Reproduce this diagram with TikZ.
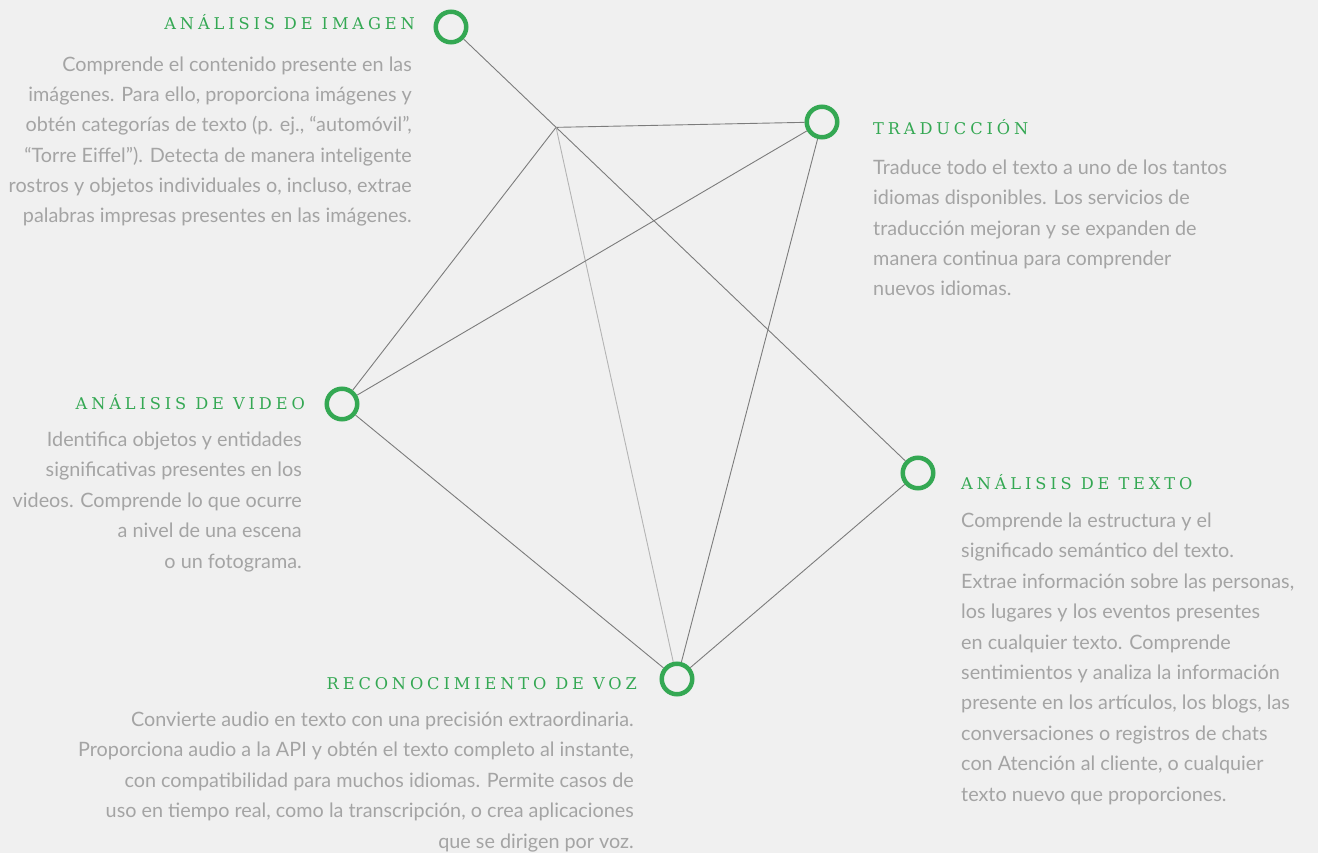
\documentclass[tikz,border=0pt]{standalone}
\usepackage{fontspec}
\setmainfont{Lato}
\newfontfamily\slabfont[LetterSpace=24]{DejaVu Serif}
\usetikzlibrary{calc}
\definecolor{fondo}{HTML}{F0F0F0}
\definecolor{verde}{HTML}{34A853}
\definecolor{gristexto}{HTML}{A4A4A4}
\definecolor{grislinea}{HTML}{7C7C7C}
\definecolor{grisclaro}{HTML}{B4B4B4}

\begin{document}
\begin{tikzpicture}[x=1pt,y=-1pt,
  punto/.style={circle,draw=verde,line width=4.5pt,fill=fondo,minimum size=30.5pt,inner sep=0pt},
  titulo/.style={text=verde,inner sep=0pt,font=\slabfont\fontsize{16.2}{18}\selectfont},
  cuerpo/.style={text=gristexto,inner sep=0pt,font=\fontsize{19.8}{30.4}\selectfont},
  enlace/.style={draw=grislinea,line width=0.9pt}]
\fill[fondo] (0,0) rectangle (1318,853);
\useasboundingbox (0,0) rectangle (1318,853);

% puntos
\node[punto] (img) at (451,27) {};
\node[punto] (trad) at (822,122) {};
\node[punto] (vid) at (342,404) {};
\node[punto] (txt) at (918,473) {};
\node[punto] (voz) at (677,679) {};
\coordinate (cruce) at ($(img)!0.225!(txt)$);

% enlaces
\draw[enlace] (img) -- (txt);
\draw[enlace] (cruce) -- (trad);
\draw[enlace] (cruce) -- (vid);
\draw[enlace,draw=grisclaro] (cruce) -- (voz);
\draw[enlace] (trad) -- (vid);
\draw[enlace] (trad) -- (voz);
\draw[enlace] (vid) -- (voz);
\draw[enlace] (txt) -- (voz);

% textos (la base es la de la ultima linea)
\node[titulo,anchor=base east] (timg) at (415,30) {ANÁLISIS DE IMAGEN};
\node[cuerpo,anchor=base east,align=right] (cimg) at (412,223) {Comprende el contenido presente en las\\
imágenes. Para ello, proporciona imágenes y\\
obtén categorías de texto (p. ej., “automóvil”,\\
“Torre Eiffel”). Detecta de manera inteligente\\
rostros y objetos individuales o, incluso, extrae\\
palabras impresas presentes en las imágenes.};

\node[titulo,anchor=base west] (ttrad) at (873,135) {TRADUCCIÓN};
\node[cuerpo,anchor=base west,align=left] (ctrad) at (873,296) {Traduce todo el texto a uno de los tantos\\
idiomas disponibles. Los servicios de\\
traducción mejoran y se expanden de\\
manera continua para comprender\\
nuevos idiomas.};

\node[titulo,anchor=base east] (tvid) at (305,409) {ANÁLISIS DE VIDEO};
\node[cuerpo,anchor=base east,align=right] (cvid) at (302,568) {Identifica objetos y entidades\\
significativas presentes en los\\
videos. Comprende lo que ocurre\\
a nivel de una escena\\
o un fotograma.};

\node[titulo,anchor=base west] (ttxt) at (961,489) {ANÁLISIS DE TEXTO};
\node[cuerpo,anchor=base west,align=left] (ctxt) at (961,801) {Comprende la estructura y el\\
significado semántico del texto.\\
Extrae información sobre las personas,\\
los lugares y los eventos presentes\\
en cualquier texto. Comprende\\
sentimientos y analiza la información\\
presente en los artículos, los blogs, las\\
conversaciones o registros de chats\\
con Atención al cliente, o cualquier\\
texto nuevo que proporciones.};

\node[titulo,anchor=base east] (tvoz) at (637,689) {RECONOCIMIENTO DE VOZ};
\node[cuerpo,anchor=base east,align=right] (cvoz) at (634,848) {Convierte audio en texto con una precisión extraordinaria.\\
Proporciona audio a la API y obtén el texto completo al instante,\\
con compatibilidad para muchos idiomas. Permite casos de\\
uso en tiempo real, como la transcripción, o crea aplicaciones\\
que se dirigen por voz.};
\end{tikzpicture}
\end{document}
